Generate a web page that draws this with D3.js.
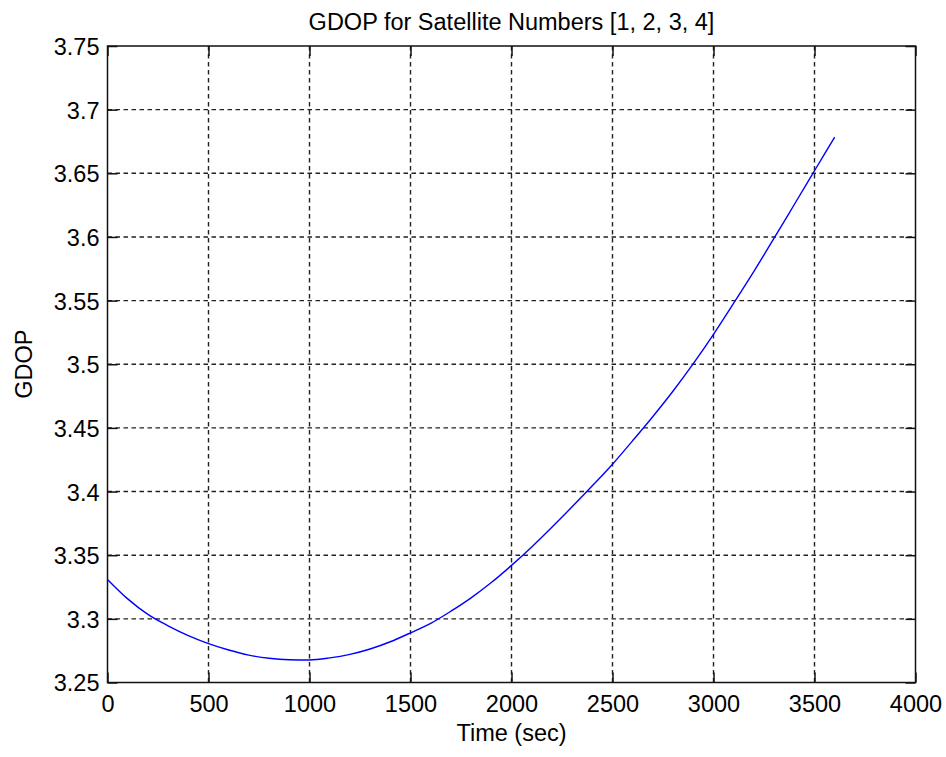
<!DOCTYPE html>
<html><head><meta charset="utf-8">
<script src="https://cdn.jsdelivr.net/npm/d3@7"></script>
<style>body{margin:0;background:#fff}svg text{font-family:"Liberation Sans",Arial,sans-serif;fill:#000}</style>
</head><body><svg id="c" width="946" height="757"></svg>
<script>
const times = [0,100,200,300,400,500,600,700,800,900,1000,1100,1200,1300,1400,1500,1600,1700,1800,1900,2000,2100,2200,2300,2400,2500,2600,2700,2800,2900,3000,3100,3200,3300,3400,3500,3600];
const gdop = [3.331,3.3157,3.3035,3.2945,3.2868,3.2805,3.2755,3.2715,3.269,3.2679,3.2677,3.2693,3.2721,3.2763,3.282,3.289,3.2965,3.306,3.3165,3.3285,3.342,3.3565,3.372,3.388,3.4045,3.4215,3.440,3.459,3.479,3.5005,3.5235,3.548,3.573,3.599,3.6255,3.652,3.6785];
const xTicks = [0,500,1000,1500,2000,2500,3000,3500,4000];
const yTicks = [3.25,3.3,3.35,3.4,3.45,3.5,3.55,3.6,3.65,3.7,3.75];
const title = "GDOP for Satellite Numbers [1, 2, 3, 4]";
const xLabel = "Time (sec)", yLabel = "GDOP";

const L=107.5,R=915.5,T=46,B=682.5;
const svg=d3.select("#c");
const x=d3.scaleLinear().domain([0,4000]).range([L,R]);
const y=d3.scaleLinear().domain([3.25,3.75]).range([B,T]);
const fs=23.5;
// grid
const g=svg.append("g");
g.selectAll(".gx").data(xTicks.slice(1,-1)).join("line").attr("x1",d=>x(d)).attr("x2",d=>x(d)).attr("y1",T).attr("y2",B)
 .attr("stroke","#222").attr("stroke-width",1.4).attr("stroke-dasharray","4.5,3.5");
g.selectAll(".gy").data(yTicks.slice(1,-1)).join("line").attr("y1",d=>y(d)).attr("y2",d=>y(d)).attr("x1",L).attr("x2",R)
 .attr("stroke","#222").attr("stroke-width",1.4).attr("stroke-dasharray","4.5,3.5");
// axes
const xa=svg.append("g").attr("transform",`translate(0,${B})`).call(d3.axisBottom(x).tickValues(xTicks).tickSize(-10).tickPadding(0).tickFormat(d3.format("d")));
const xt=svg.append("g").attr("transform",`translate(0,${T})`).call(d3.axisTop(x).tickValues(xTicks).tickSize(-10).tickFormat(""));
const ya=svg.append("g").attr("transform",`translate(${L},0)`).call(d3.axisLeft(y).tickValues(yTicks).tickSize(-10).tickPadding(0).tickFormat(d=>String(+d.toFixed(2))));
const yr=svg.append("g").attr("transform",`translate(${R},0)`).call(d3.axisRight(y).tickValues(yTicks).tickSize(-10).tickFormat(""));
[xa,xt,ya,yr].forEach(a=>{a.select(".domain").remove();a.selectAll("line").attr("stroke","#111").attr("stroke-width",1.5);
 a.selectAll("text").style("font-size",fs+"px").attr("fill","#000");});
xa.selectAll("text").attr("y",29.5).attr("dy",null);
ya.selectAll("text").attr("x",-8).attr("dy","0.36em");
svg.append("rect").attr("x",L).attr("y",T).attr("width",R-L).attr("height",B-T).attr("fill","none").attr("stroke","#111").attr("stroke-width",1.5);
// line
svg.append("path").datum(times.map((t,i)=>[t,gdop[i]])).attr("fill","none").attr("stroke","#0000ff").attr("stroke-width",1.4)
 .attr("d",d3.line().x(d=>x(d[0])).y(d=>y(d[1])).curve(d3.curveMonotoneX));
// labels
svg.append("text").attr("x",(L+R)/2).attr("y",30).attr("text-anchor","middle").style("font-size",fs+"px").text(title);
svg.append("text").attr("x",(L+R)/2).attr("y",741).attr("text-anchor","middle").style("font-size",fs+"px").text(xLabel);
svg.append("text").attr("transform",`translate(32,${(T+B)/2}) rotate(-90)`).attr("text-anchor","middle").style("font-size",fs+"px").text(yLabel);
</script></body></html>
